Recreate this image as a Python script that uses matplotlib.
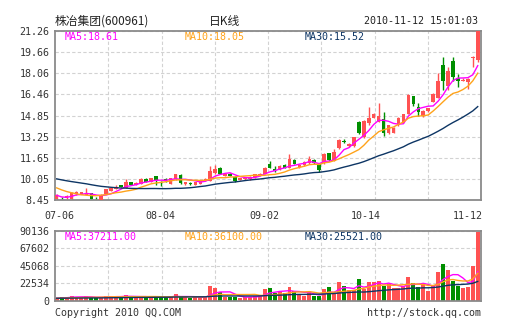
import numpy as np
import pandas as pd
import matplotlib
matplotlib.use('Agg')
import matplotlib.pyplot as plt

plt.rcParams['font.family'] = ['DejaVu Sans Mono']

# daily candles 07-06 .. 11-12
opens = [8.50, 8.62, 8.62, 8.53, 8.90, 8.92, 8.85, 8.98, 8.62, 8.48,
         8.90, 9.14, 9.29, 9.60, 9.37, 9.82, 9.60, 9.67, 10.05, 9.82,
         10.28, 9.85, 10.00, 9.67, 10.05, 10.35, 9.67, 9.72, 9.60, 9.67,
         9.95, 9.90, 10.50, 10.90, 10.30, 10.43, 10.20, 10.00, 10.05, 10.05,
         10.20, 10.28, 10.43, 11.20, 10.82, 10.74, 11.12, 10.90, 11.50, 10.97,
         11.12, 11.27, 11.50, 11.17, 11.27, 11.98, 11.42, 12.40, 12.90, 12.57,
         12.57, 14.40, 13.20, 14.25, 14.70, 14.40, 14.60, 13.50, 13.56, 14.10,
         14.30, 15.00, 16.30, 15.50, 14.80, 15.20, 15.90, 16.20, 18.70, 17.10,
         19.00, 17.70, 17.50, 17.40, 19.25, 19.05]
highs = [8.90, 8.70, 8.80, 9.05, 9.10, 9.08, 9.39, 9.00, 8.68, 8.88,
         9.32, 9.40, 9.60, 9.62, 10.05, 9.85, 9.80, 10.10, 10.10, 10.15,
         10.30, 9.90, 10.10, 10.15, 10.45, 10.40, 9.85, 9.80, 9.85, 10.00,
         10.08, 11.05, 11.10, 10.95, 10.45, 10.50, 10.25, 10.12, 10.15, 10.25,
         10.45, 10.50, 10.95, 11.40, 11.00, 11.10, 11.15, 11.90, 11.55, 11.15,
         11.40, 11.75, 11.55, 11.20, 12.00, 12.00, 12.30, 13.10, 13.10, 12.75,
         13.25, 14.45, 14.50, 15.49, 15.05, 15.77, 15.10, 14.15, 13.95, 14.75,
         15.00, 16.50, 16.35, 15.80, 15.25, 15.45, 16.55, 18.10, 19.30, 18.50,
         19.30, 18.00, 17.70, 17.70, 19.35, 21.26]
lows = [8.45, 8.45, 8.55, 8.45, 8.85, 8.88, 8.80, 8.50, 8.45, 8.45,
        8.88, 9.10, 9.25, 9.40, 9.35, 9.58, 9.55, 9.65, 9.78, 9.80,
        9.55, 9.50, 9.85, 9.65, 10.00, 9.70, 9.62, 9.60, 9.55, 9.65,
        9.90, 9.88, 10.45, 10.40, 10.25, 10.25, 9.85, 9.95, 10.00, 10.00,
        10.15, 10.25, 10.40, 10.85, 10.60, 10.70, 10.85, 10.85, 11.15, 10.90,
        11.05, 11.20, 11.20, 10.60, 11.20, 11.40, 11.40, 12.30, 12.80, 12.50,
        12.50, 13.45, 13.15, 14.10, 14.65, 14.35, 13.33, 13.45, 13.50, 14.05,
        14.25, 14.95, 15.60, 14.80, 14.75, 15.15, 15.85, 16.15, 16.80, 16.80,
        17.50, 17.00, 17.45, 16.90, 18.50, 18.90]
closes = [8.83, 8.58, 8.75, 8.98, 9.06, 9.02, 8.92, 8.55, 8.58, 8.83,
          9.29, 9.37, 9.44, 9.44, 9.82, 9.60, 9.75, 10.05, 9.82, 10.13,
          9.97, 9.80, 9.97, 10.13, 10.43, 9.75, 9.82, 9.68, 9.82, 9.97,
          10.05, 10.66, 10.80, 10.43, 10.40, 10.28, 9.90, 10.10, 10.12, 10.20,
          10.43, 10.45, 10.90, 10.90, 10.66, 11.05, 10.90, 11.58, 11.20, 11.12,
          11.35, 11.58, 11.27, 10.71, 11.96, 11.47, 12.06, 13.00, 12.85, 12.70,
          13.20, 13.50, 14.47, 14.70, 15.00, 14.78, 13.50, 14.10, 13.90, 14.70,
          14.95, 16.40, 15.70, 15.10, 15.20, 15.40, 16.50, 17.50, 17.50, 18.20,
          17.80, 17.45, 17.55, 17.60, 19.30, 21.26]
volumes = [3500, 4800, 4600, 6000, 5000, 4300, 5500, 4000, 3700, 4500,
           6000, 6000, 6000, 4000, 7000, 5000, 5500, 5000, 4000, 5000,
           6000, 4300, 4300, 5000, 8800, 4300, 4500, 4000, 4300, 4700,
           4500, 19000, 16800, 11000, 5000, 5000, 5000, 4000, 4300, 5000,
           6000, 7000, 15000, 16770, 9380, 11620, 9380, 17640, 12300, 8120,
           5980, 10740, 5980, 5980, 15020, 17640, 9380, 23960, 18520, 13270,
           13270, 27850, 14630, 23960, 23960, 25320, 18900, 21040, 15890, 15890,
           19300, 30470, 23180, 17640, 21040, 12490, 19000, 37000, 47000, 40000,
           25000, 18500, 16000, 18000, 45000, 88500]
# days before 07-06, only used to seed the moving averages
prev_closes = [10.9, 10.8, 10.85, 10.7, 10.75, 10.6, 10.65, 10.5, 10.55, 10.4,
               10.45, 10.3, 10.2, 10.1, 10.2, 10.0, 10.1, 9.9, 10.0, 9.95,
               10.1, 10.0, 9.9, 9.85, 9.8, 9.2, 8.9, 8.6, 8.5]
prev_volumes = [3200, 3000, 3600, 3400, 3100, 3500, 3300, 2900, 3200, 3400,
                3000, 3300, 3100, 3500, 3200, 3000, 3400, 3300, 3100, 2900,
                3000, 3200, 3100, 2800, 3000, 2900, 3100, 3000, 3200]

date_labels = ['07-06', '08-04', '09-02', '10-14', '11-12']
date_pos = [0.5, 21, 42, 62.5, 83]
price_ticks = [8.45, 10.05, 11.65, 13.25, 14.85, 16.46, 18.06, 19.66, 21.26]
vol_ticks = [0, 22534, 45068, 67602, 90136]
price_ma_text = ['MA5:18.61', 'MA10:18.05', 'MA30:15.52']
vol_ma_text = ['MA5:37211.00', 'MA10:36100.00', 'MA30:25521.00']

RED, GREEN = '#ff5252', '#008f00'
MA_COLORS = ['#ff00ff', '#ffa31a', '#0d3564']
W, H = 505, 330

n = len(closes)
x = np.arange(n)
o, h, l, c = map(np.array, (opens, highs, lows, closes))
up = c >= o
cols = np.where(up, RED, GREEN)

c_all = pd.Series(prev_closes + closes)
v_all = pd.Series(prev_volumes + volumes)
periods = [5, 10, 30]

fig = plt.figure(figsize=(W / 100, H / 100), dpi=100)
ax = fig.add_axes([55 / W, 1 - 200 / H, 426 / W, 169 / H])
axv = fig.add_axes([55 / W, 1 - 300.7 / H, 426 / W, 70 / H])

xlo, xhi = -0.34, 85.66
grid_x = [xlo + k * (xhi - xlo) / 8 for k in range(1, 8)]

for a in (ax, axv):
    a.set_xlim(xlo, xhi)
    for s in a.spines.values():
        s.set_color('#8a8a8a')
        s.set_linewidth(1.3)
    a.set_xticks(grid_x, minor=True)
    a.grid(which='minor', axis='x', color='#d2d2d2', ls=(0, (3, 2)), lw=0.8)
    a.grid(which='major', axis='y', color='#d2d2d2', ls=(0, (3, 2)), lw=0.8)
    a.tick_params(which='both', length=0, labelsize=7.2, colors='#333333')
    a.set_axisbelow(True)

# price candles
ax.vlines(x, l, h, colors=cols, lw=1, zorder=2)
body = np.maximum(np.abs(c - o), 0.05)
ax.bar(x, body, bottom=np.minimum(o, c), width=0.72, color=cols, zorder=3)
for p, col in zip(periods, MA_COLORS):
    ma = c_all.rolling(p, min_periods=1).mean().values[-n:]
    ax.plot(x, ma, color=col, lw=1, zorder=4)
ax.set_ylim(price_ticks[0], price_ticks[-1])
ax.set_yticks(price_ticks)
ax.set_yticklabels(['%.2f' % t for t in price_ticks])
ax.set_xticks(date_pos)
ax.set_xticklabels(date_labels)
ax.tick_params(axis='x', pad=8)
ax.tick_params(axis='y', pad=4)

# volume
axv.bar(x, volumes, width=0.8, color=cols, zorder=2)
for p, col in zip(periods, MA_COLORS):
    vma = v_all.rolling(p, min_periods=1).mean().values[-n:]
    axv.plot(x, vma, color=col, lw=1, zorder=3)
axv.set_ylim(vol_ticks[0], vol_ticks[-1])
axv.set_yticks(vol_ticks)
axv.set_yticklabels([str(t) for t in vol_ticks])
axv.set_xticks([])
axv.tick_params(axis='y', pad=4)

# texts
def put(px, py, s, **kw):
    fig.text(px / W, 1 - py / H, s, va='center', **kw)

for px, s, col in zip([65, 184.5, 304.5], price_ma_text, MA_COLORS):
    put(px, 37, s, color=col, size=7.2)
for px, s, col in zip([65, 184.5, 304.5], vol_ma_text, MA_COLORS):
    put(px, 237.5, s, color=col, size=7.2)

cjk = ['Noto Sans CJK SC', 'DejaVu Sans']
put(55, 21.5, '株冶集团(600961)', family=cjk, size=8.5, color='#222222')
put(224.5, 21.5, '日K线', family=cjk, size=8.5, color='#222222', ha='center')
put(478, 21.5, '2010-11-12 15:01:03', size=7.2, color='#222222', ha='right')
put(55, 312.5, 'Copyright 2010 QQ.COM', size=7.2, color='#333333')
put(481, 312.5, 'http://stock.qq.com', size=7.2, color='#333333', ha='right')

fig.savefig('out.png', dpi=100, facecolor='white')
